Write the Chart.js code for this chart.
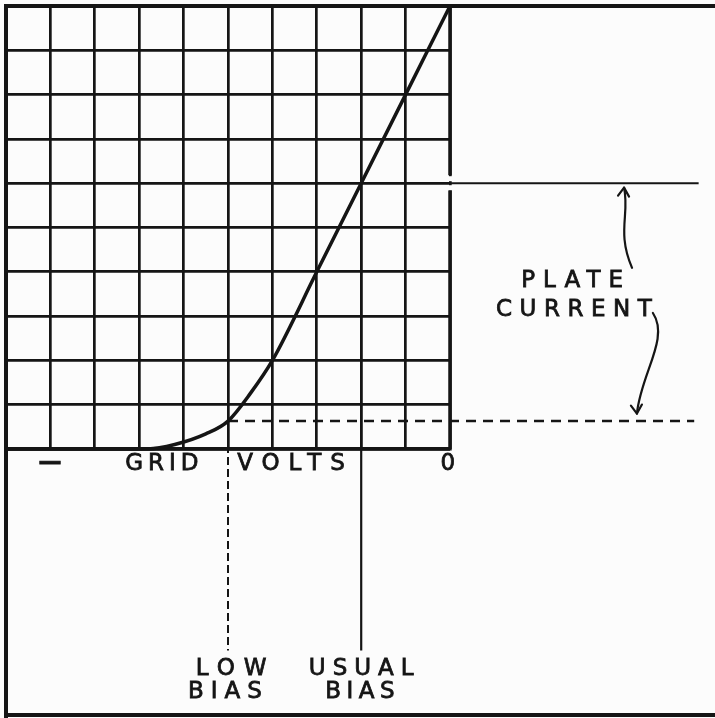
<!DOCTYPE html>
<html>
<head>
<meta charset="utf-8">
<script src="https://cdn.jsdelivr.net/npm/chart.js@4.4.1/dist/chart.umd.min.js"></script>
<style>
  html, body { margin: 0; padding: 0; background: #fcfcfc; }
  canvas { display: block; }
</style>
</head>
<body>
<canvas id="biasChart" width="715" height="718"></canvas>
<script>
// grid volts run left (most negative) to right (0 at x = 10), plate current up
const curveVolts   = [0, 3.2, 3.8, 4.5, 5.0, 5.5, 6, 7, 8, 9, 10];
const curveCurrent = [0, 0,   0.1, 0.34, 0.63, 1.25, 2, 4, 6, 8, 10];
const gridSteps = 10;

// operating points
const lowBiasVolts = 5;
const lowBiasCurrent = 0.63;
const usualBiasVolts = 8;
const usualBiasCurrent = 6;

// how far the leader lines run outside the grid
const leaderRight = 15.6;
const leaderDown = -4.55;

const ink = '#151515';

const labels = [
  { text: '\u2014', x: 0.99, y: -0.32, spacing: 0, bold: true },
  { text: 'GRID',    x: 3.51,  y: -0.33, spacing: 5 },
  { text: 'VOLTS',   x: 6.42,  y: -0.33, spacing: 9 },
  { text: '0',       x: 9.95,  y: -0.33, spacing: 0 },
  { text: 'PLATE',   x: 12.75, y: 3.79,  spacing: 8 },
  { text: 'CURRENT', x: 12.79, y: 3.14,  spacing: 7.5 },
  { text: 'LOW',     x: 5.07,  y: -4.97, spacing: 9 },
  { text: 'BIAS',    x: 4.93,  y: -5.49, spacing: 7 },
  { text: 'USUAL',   x: 8.0,   y: -4.97, spacing: 7 },
  { text: 'BIAS',    x: 7.97,  y: -5.49, spacing: 5.5 }
];

// curvy arrows from the PLATE CURRENT label to the two current levels
const arrows = [
  { pts: [[14.1, 4.09], [13.75, 4.9], [14.05, 5.3], [13.92, 5.9]], dir: 'up' },
  { pts: [[14.57, 3.07], [14.95, 2.5], [14.3, 1.7], [14.21, 0.8]], dir: 'down' }
];

function pairs(xs, ys) {
  return xs.map((x, i) => ({ x: x, y: ys[i] }));
}

const paperPlugin = {
  id: 'paper',
  beforeDraw(chart) {
    const ctx = chart.ctx;
    ctx.save();
    ctx.fillStyle = '#fcfcfc';
    ctx.fillRect(0, 0, chart.width, chart.height);
    ctx.restore();
  },
  afterDraw(chart) {
    const ctx = chart.ctx;
    const xs = chart.scales.x;
    const ys = chart.scales.y;
    const area = chart.chartArea;
    ctx.save();
    ctx.strokeStyle = ink;
    ctx.lineCap = 'butt';

    // outer frame: top, left and bottom
    ctx.lineWidth = 4;
    ctx.beginPath();
    ctx.moveTo(area.left, area.top);
    ctx.lineTo(chart.width, area.top);
    ctx.moveTo(area.left, area.top);
    ctx.lineTo(area.left, chart.height);
    ctx.moveTo(area.left, chart.height - 3);
    ctx.lineTo(chart.width, chart.height - 3);
    ctx.stroke();

    // zero-bias edge of the grid is drawn heavier, broken where the plate line leaves
    const edge = xs.getPixelForValue(gridSteps);
    const plateY = ys.getPixelForValue(usualBiasCurrent);
    ctx.lineWidth = 3.5;
    ctx.beginPath();
    ctx.moveTo(edge, area.top);
    ctx.lineTo(edge, plateY - 8);
    ctx.moveTo(edge, plateY + 7);
    ctx.lineTo(edge, area.bottom);
    ctx.stroke();
    ctx.fillStyle = '#fcfcfc';
    ctx.fillRect(edge - 3, plateY - 7, 6, 5);
    ctx.fillRect(edge - 3, plateY + 2, 6, 5);

    // labels, lettered slightly heavy
    ctx.fillStyle = ink;
    ctx.textBaseline = 'middle';
    ctx.textAlign = 'left';
    ctx.lineWidth = 0.8;
    labels.forEach(function(l) {
      ctx.font = (l.bold ? 'bold ' : '') + '23px "DejaVu Sans"';
      ctx.letterSpacing = l.spacing + 'px';
      const w = ctx.measureText(l.text).width;
      const px = xs.getPixelForValue(l.x) - (w - l.spacing) / 2;
      const py = ys.getPixelForValue(l.y);
      ctx.fillText(l.text, px, py);
      ctx.strokeText(l.text, px, py);
    });
    ctx.letterSpacing = '0px';

    // arrows
    ctx.lineWidth = 2.2;
    ctx.lineCap = 'round';
    ctx.lineJoin = 'round';
    arrows.forEach(function(a) {
      const p = a.pts.map(q => [xs.getPixelForValue(q[0]), ys.getPixelForValue(q[1])]);
      ctx.beginPath();
      ctx.moveTo(p[0][0], p[0][1]);
      ctx.bezierCurveTo(p[1][0], p[1][1], p[2][0], p[2][1], p[3][0], p[3][1]);
      ctx.stroke();
      const tip = p[3];
      const s = a.dir === 'up' ? 1 : -1;
      ctx.beginPath();
      ctx.moveTo(tip[0] - 6, tip[1] + s * 8);
      ctx.lineTo(tip[0], tip[1]);
      ctx.lineTo(tip[0] + 5, tip[1] + s * 9);
      ctx.stroke();
    });
    ctx.restore();
  }
};

const ctx = document.getElementById('biasChart').getContext('2d');
const biasChart = new Chart(ctx, {
  type: 'line',
  data: {
    datasets: [
      {
        label: 'Plate current',
        data: pairs(curveVolts, curveCurrent),
        borderColor: ink,
        borderWidth: 3.5,
        cubicInterpolationMode: 'monotone',
        pointRadius: 0,
        clip: false
      },
      {
        label: 'Usual plate current',
        data: pairs([gridSteps, leaderRight], [usualBiasCurrent, usualBiasCurrent]),
        borderColor: ink,
        borderWidth: 2,
        pointRadius: 0,
        clip: false
      },
      {
        label: 'Low bias plate current',
        data: pairs([lowBiasVolts, leaderRight - 0.1], [lowBiasCurrent, lowBiasCurrent]),
        borderColor: ink,
        borderWidth: 2.5,
        borderDash: [10, 7],
        pointRadius: 0,
        clip: false
      },
      {
        label: 'Low bias',
        data: pairs([lowBiasVolts, lowBiasVolts], [lowBiasCurrent, leaderDown]),
        borderColor: ink,
        borderWidth: 2,
        borderDash: [8, 4],
        pointRadius: 0,
        clip: false
      },
      {
        label: 'Usual bias',
        data: pairs([usualBiasVolts, usualBiasVolts], [usualBiasCurrent, leaderDown]),
        borderColor: ink,
        borderWidth: 2.2,
        pointRadius: 0,
        clip: false
      }
    ]
  },
  options: {
    responsive: false,
    animation: false,
    events: [],
    layout: {
      autoPadding: false,
      padding: { left: 6, top: 6, right: 265, bottom: 269 }
    },
    plugins: {
      legend: { display: false },
      tooltip: { enabled: false }
    },
    scales: {
      x: {
        type: 'linear',
        min: 0,
        max: gridSteps,
        ticks: { display: false, stepSize: 1 },
        grid: { color: ink, lineWidth: 2.7, drawTicks: false },
        border: { display: true, color: ink, width: 3.5 }
      },
      y: {
        type: 'linear',
        min: 0,
        max: gridSteps,
        ticks: { display: false, stepSize: 1 },
        grid: { color: ink, lineWidth: 2.7, drawTicks: false },
        border: { display: true, color: ink, width: 4 }
      }
    }
  },
  plugins: [paperPlugin]
});
</script>
</body>
</html>
